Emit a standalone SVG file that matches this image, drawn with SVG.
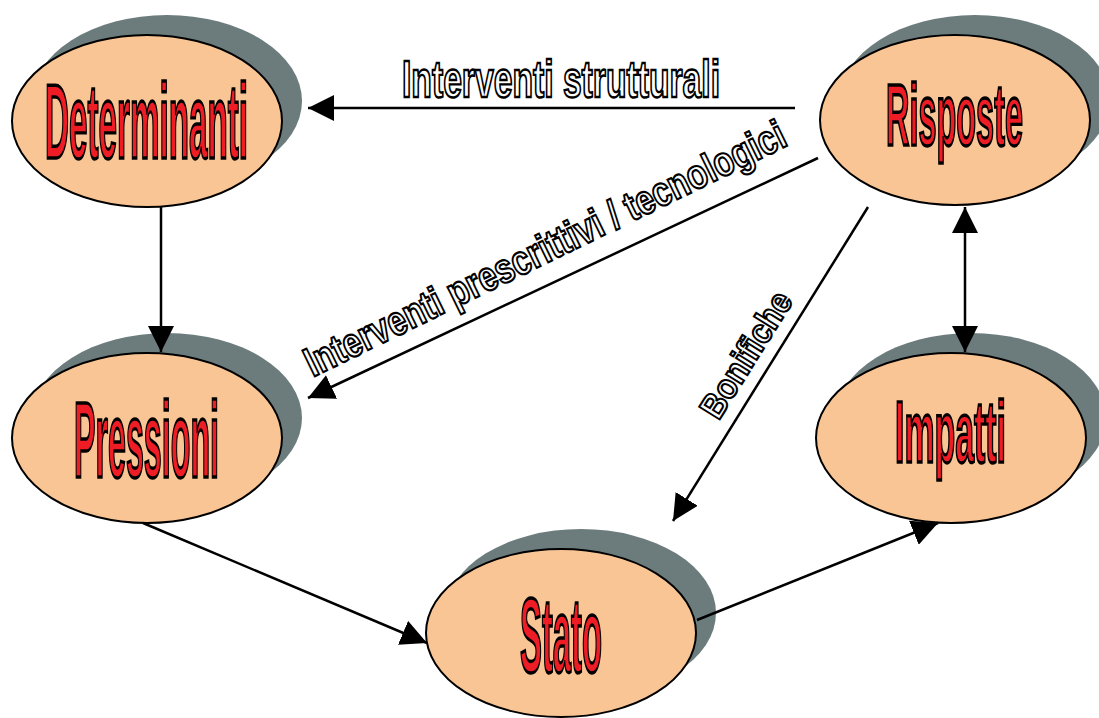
<svg xmlns="http://www.w3.org/2000/svg" width="1099" height="718" viewBox="0 0 1099 718">
<defs>
<style>
.sh{fill:#6C7C7D}
.el{fill:#F9C594;stroke:#000;stroke-width:2}
.nt{font-family:"Liberation Sans Narrow","Liberation Sans",Arial,sans-serif;font-weight:bold;fill:#EE1C25;stroke:#000;stroke-width:2.6;text-anchor:middle;vector-effect:non-scaling-stroke}
.lb{font-family:"Liberation Sans",Arial,sans-serif;font-weight:bold;fill:#fff;stroke:#000;stroke-width:2;text-anchor:middle;vector-effect:non-scaling-stroke}
.cn{stroke:#000;stroke-width:2.5;fill:none}
</style>
<marker id="ah" markerUnits="userSpaceOnUse" markerWidth="27" markerHeight="26" refX="26" refY="13" orient="auto-start-reverse" viewBox="0 0 27 26">
<path d="M0,0 L26,13 L0,26 z" fill="#000"/>
</marker>
</defs>
<rect width="1099" height="718" fill="#fff"/>
<g id="node-determinanti">
<ellipse class="sh" cx="167" cy="101" rx="135" ry="86"/>
<ellipse class="el" cx="147" cy="121" rx="135" ry="86"/>
<text class="nt" transform="translate(146.5 158) scale(1 2.62)" x="0" y="0" font-size="40.5" textLength="203" lengthAdjust="spacingAndGlyphs">Determinanti</text>
</g>
<g id="node-risposte">
<ellipse class="sh" cx="975" cy="100" rx="135" ry="85"/>
<ellipse class="el" cx="955" cy="120" rx="135" ry="85"/>
<text class="nt" transform="translate(954.5 145) scale(1 2.22)" x="0" y="0" font-size="39.6" textLength="137" lengthAdjust="spacingAndGlyphs">Risposte</text>
</g>
<g id="node-pressioni">
<ellipse class="sh" cx="167" cy="418" rx="135" ry="85"/>
<ellipse class="el" cx="147" cy="438" rx="135" ry="85"/>
<text class="nt" transform="translate(146.5 477) scale(1 2.74)" x="0" y="0" font-size="39.3" textLength="145" lengthAdjust="spacingAndGlyphs">Pressioni</text>
</g>
<g id="node-impatti">
<ellipse class="sh" cx="971" cy="418" rx="135" ry="85"/>
<ellipse class="el" cx="951" cy="438" rx="135" ry="85"/>
<text class="nt" transform="translate(950.5 462) scale(1 2.13)" x="0" y="0" font-size="41.3" textLength="111" lengthAdjust="spacingAndGlyphs">Impatti</text>
</g>
<g id="node-stato">
<ellipse class="sh" cx="581" cy="613" rx="135" ry="84"/>
<ellipse class="el" cx="561" cy="633" rx="135" ry="84"/>
<text class="nt" transform="translate(561 672) scale(1 2.62)" x="0" y="0" font-size="40" textLength="82" lengthAdjust="spacingAndGlyphs">Stato</text>
</g>
<g id="connectors">
<line class="cn" x1="161" y1="207" x2="161" y2="352" marker-end="url(#ah)"/>
<line class="cn" x1="965" y1="207" x2="965" y2="352" marker-start="url(#ah)" marker-end="url(#ah)"/>
<line class="cn" x1="795" y1="108" x2="308" y2="108" marker-end="url(#ah)"/>
<line class="cn" x1="818" y1="158" x2="308" y2="398" marker-end="url(#ah)"/>
<line class="cn" x1="868" y1="207" x2="673" y2="521" marker-end="url(#ah)"/>
<line class="cn" x1="143" y1="523" x2="427" y2="643" marker-end="url(#ah)"/>
<line class="cn" x1="697" y1="620" x2="938" y2="523" marker-end="url(#ah)"/>
<text class="lb" transform="translate(561 97) scale(1 1.54)" x="0" y="0" font-size="33.7" textLength="318" lengthAdjust="spacingAndGlyphs">Interventi strutturali</text>
<text class="lb" transform="rotate(-26 551 261) translate(551 261) scale(1 1.25)" x="0" y="0" font-size="33.1" textLength="530" lengthAdjust="spacingAndGlyphs">Interventi prescrittivi / tecnologici</text>
<text class="lb" transform="rotate(-58 756 361) translate(756 361) scale(1 1.12)" x="0" y="0" font-size="31.2" textLength="142" lengthAdjust="spacingAndGlyphs">Bonifiche</text>
</g>
</svg>
